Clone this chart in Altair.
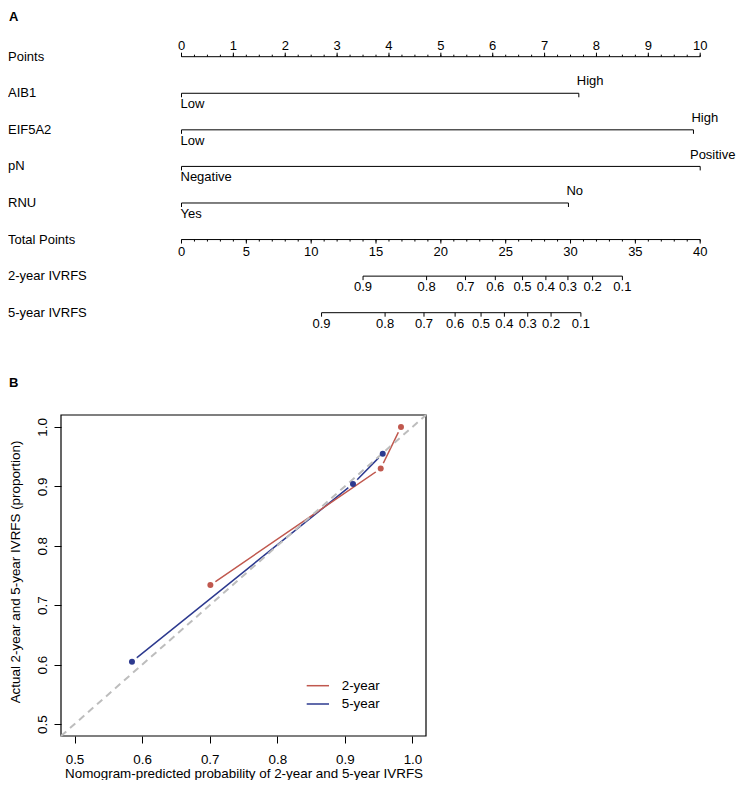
import altair as alt
import pandas as pd

FONT = "Liberation Sans"
FS_A = 13
FS_B = 13.4
INK = "#000000"

# ---------------- Panel A : nomogram ----------------
row_labels = ["Points", "AIB1", "EIF5A2", "pN", "RNU", "Total Points",
              "2-year IVRFS", "5-year IVRFS"]
row_index = [0, 1, 2, 3, 4, 5, 6, 7]

points_major = [0, 1, 2, 3, 4, 5, 6, 7, 8, 9, 10]
points_minor = [i / 4 for i in range(41)]

var_rows = [1, 2, 3, 4]
var_low_labels = ["Low", "Low", "Negative", "Yes"]
var_high_labels = ["High", "High", "Positive", "No"]
var_high_points = [7.66, 9.87, 10.0, 7.46]

total_major = [0, 5, 10, 15, 20, 25, 30, 35, 40]
total_minor = list(range(41))

surv_labels = ["0.9", "0.8", "0.7", "0.6", "0.5", "0.4", "0.3", "0.2", "0.1"]
surv2_total = [14.0, 18.9, 21.9, 24.2, 26.3, 28.1, 29.8, 31.7, 34.0]
surv5_total = [10.8, 15.7, 18.7, 21.1, 23.1, 24.9, 26.7, 28.5, 30.8]

# ---------------- Panel B : calibration ----------------
series_names = ["2-year", "5-year"]
series_colors = ["#C0584E", "#2D3A8F"]
pred_2y = [0.701, 0.953, 0.983]
obs_2y = [0.734, 0.930, 1.000]
pred_5y = [0.585, 0.912, 0.956]
obs_5y = [0.605, 0.904, 0.955]
prob_ticks = [0.5, 0.6, 0.7, 0.8, 0.9, 1.0]
prob_domain = [0.48, 1.02]

# ---------------- scales ----------------
pts = alt.Scale(domain=[0, 10], range=[173.5, 692.2])
tot = alt.Scale(domain=[0, 40], range=[173.5, 692.2])
rows = alt.Scale(domain=[0, 7], range=[48.7, 304.7])
bx = alt.Scale(domain=prob_domain, range=[53, 418])
by = alt.Scale(domain=prob_domain, range=[728, 407])


def X(f, s):
    return alt.X(f, type="quantitative", scale=s, axis=None)


def Y(f, s):
    return alt.Y(f, type="quantitative", scale=s, axis=None)


layers = []

# horizontal lines: points axis + variables
df_hl = pd.DataFrame({"row": [0] + var_rows, "start": [0] * 5,
                      "end": [10] + var_high_points})
layers.append(alt.Chart(df_hl).mark_rule(color=INK, strokeWidth=1).encode(
    x=X("start", pts), x2="end", y=Y("row", rows)))

# points axis ticks and labels
df_pmaj = pd.DataFrame({"v": points_major, "row": 0})
df_pmin = pd.DataFrame({"v": points_minor, "row": 0})
layers.append(alt.Chart(df_pmaj).mark_rule(color=INK, strokeWidth=1, y2Offset=-4).encode(
    x=X("v", pts), y=Y("row", rows), y2="row"))
layers.append(alt.Chart(df_pmin).mark_rule(color=INK, strokeWidth=1, y2Offset=-2).encode(
    x=X("v", pts), y=Y("row", rows), y2="row"))
layers.append(alt.Chart(df_pmaj).mark_text(
    font=FONT, fontSize=FS_A, color=INK, baseline="alphabetic", yOffset=-7).encode(
    x=X("v", pts), y=Y("row", rows), text=alt.Text("v:Q", format="d")))

# variable end ticks and level labels
df_vt = pd.DataFrame({"pos": [0] * 4 + var_high_points, "row": var_rows * 2})
layers.append(alt.Chart(df_vt).mark_rule(color=INK, strokeWidth=1, y2Offset=4).encode(
    x=X("pos", pts), y=Y("row", rows), y2="row"))
df_low = pd.DataFrame({"pos": [0] * 4, "row": var_rows, "label": var_low_labels})
df_high = pd.DataFrame({"pos": var_high_points, "row": var_rows, "label": var_high_labels})
layers.append(alt.Chart(df_low).mark_text(
    font=FONT, fontSize=FS_A, color=INK, align="left", baseline="top", dx=-1, yOffset=5).encode(
    x=X("pos", pts), y=Y("row", rows), text="label:N"))
# labels that fit to the right of their tick
layers.append(alt.Chart(df_high).transform_filter(alt.datum.pos < 10).mark_text(
    font=FONT, fontSize=FS_A, color=INK, align="left", baseline="alphabetic", dx=-2, yOffset=-7.8).encode(
    x=X("pos", pts), y=Y("row", rows), text="label:N"))
# label at the right end of the scale: kept inside the page
layers.append(alt.Chart(df_high).transform_filter(alt.datum.pos >= 10).mark_text(
    font=FONT, fontSize=FS_A, color=INK, align="right", baseline="alphabetic", yOffset=-7.8).encode(
    x=alt.value(727.5), y=Y("row", rows), text="label:N"))

# row labels
df_rl = pd.DataFrame({"row": row_index, "label": row_labels})
layers.append(alt.Chart(df_rl).mark_text(
    font=FONT, fontSize=FS_A, color=INK, align="left", baseline="middle").encode(
    x=alt.value(0), y=Y("row", rows), text="label:N"))

# total points axis
df_tl = pd.DataFrame({"row": [5], "start": [0], "end": [40]})
layers.append(alt.Chart(df_tl).mark_rule(color=INK, strokeWidth=1).encode(
    x=X("start", tot), x2="end", y=Y("row", rows)))
df_tmaj = pd.DataFrame({"v": total_major, "row": 5})
df_tmin = pd.DataFrame({"v": total_minor, "row": 5})
layers.append(alt.Chart(df_tmaj).mark_rule(color=INK, strokeWidth=1, y2Offset=4).encode(
    x=X("v", tot), y=Y("row", rows), y2="row"))
layers.append(alt.Chart(df_tmin).mark_rule(color=INK, strokeWidth=1, y2Offset=2).encode(
    x=X("v", tot), y=Y("row", rows), y2="row"))
layers.append(alt.Chart(df_tmaj).mark_text(
    font=FONT, fontSize=FS_A, color=INK, baseline="top", yOffset=6).encode(
    x=X("v", tot), y=Y("row", rows), text=alt.Text("v:Q", format="d")))

# survival probability axes
df_sl = pd.DataFrame({"row": [6, 7], "start": [min(surv2_total), min(surv5_total)],
                      "end": [max(surv2_total), max(surv5_total)]})
layers.append(alt.Chart(df_sl).mark_rule(color=INK, strokeWidth=1).encode(
    x=X("start", tot), x2="end", y=Y("row", rows)))
df_st = pd.DataFrame({"v": surv2_total + surv5_total,
                      "row": [6] * len(surv2_total) + [7] * len(surv5_total),
                      "label": surv_labels + surv_labels})
layers.append(alt.Chart(df_st).mark_rule(color=INK, strokeWidth=1, y2Offset=4).encode(
    x=X("v", tot), y=Y("row", rows), y2="row"))
layers.append(alt.Chart(df_st).mark_text(
    font=FONT, fontSize=FS_A, color=INK, baseline="top", yOffset=5.3).encode(
    x=X("v", tot), y=Y("row", rows), text="label:N"))

# panel letters
layers.append(alt.Chart(pd.DataFrame({"t": ["A"]})).mark_text(
    font=FONT, fontSize=FS_A, fontWeight="bold", color=INK, align="left", baseline="top").encode(
    x=alt.value(1), y=alt.value(3), text="t:N"))
layers.append(alt.Chart(pd.DataFrame({"t": ["B"]})).mark_text(
    font=FONT, fontSize=FS_A, fontWeight="bold", color=INK, align="left", baseline="alphabetic").encode(
    x=alt.value(1), y=alt.value(379), text="t:N"))

# ---------------- Panel B layers ----------------
df_cal = pd.DataFrame({
    "pred": pred_2y + pred_5y,
    "obs": obs_2y + obs_5y,
    "series": ["2-year"] * len(pred_2y) + ["5-year"] * len(pred_5y),
    "order": list(range(len(pred_2y))) + list(range(len(pred_5y))),
})
color_enc = alt.Color("series:N", scale=alt.Scale(domain=series_names, range=series_colors),
                      legend=None)

df_frame = pd.DataFrame({"lo": [prob_domain[0]], "hi": [prob_domain[1]]})
layers.append(alt.Chart(df_frame).mark_rect(fillOpacity=0, stroke=INK, strokeWidth=1.2).encode(
    x=X("lo", bx), x2="hi", y=Y("lo", by), y2="hi"))

for s in ["5-year", "2-year"]:
    col = series_colors[series_names.index(s)]
    base = alt.Chart(df_cal).transform_filter(alt.datum.series == s)
    layers.append(base.mark_line(color=col, strokeWidth=1.5).encode(
        x=X("pred", bx), y=Y("obs", by), order="order:Q"))
    layers.append(base.mark_circle(color="white", opacity=1, size=150).encode(
        x=X("pred", bx), y=Y("obs", by)))

df_diag = pd.DataFrame({"p": prob_domain})
layers.append(alt.Chart(df_diag).mark_line(color="#BDBDBD", strokeWidth=2, strokeDash=[7, 5]).encode(
    x=X("p", bx), y=Y("p", by)))

x_axis = alt.Axis(orient="bottom", values=prob_ticks, format=".1f", domain=False, grid=False,
                  tickSize=7, tickColor=INK, tickWidth=1, labelPadding=9, labelFlush=False,
                  labelFont=FONT, labelFontSize=FS_B, labelColor=INK,
                  titleFont=FONT, titleFontSize=FS_B, titleFontWeight="normal", titleColor=INK,
                  titleX=235.5, titleY=41, titleAlign="center", titleBaseline="alphabetic")
y_axis = alt.Axis(orient="left", offset=-53, values=prob_ticks, format=".1f", domain=False,
                  grid=False, tickSize=7, tickColor=INK, tickWidth=1, labelPadding=7.3,
                  labelFlush=False, labelOverlap=False, labelAngle=270, labelAlign="center",
                  labelBaseline="alphabetic",
                  labelFont=FONT, labelFontSize=FS_B, labelColor=INK,
                  titleFont=FONT, titleFontSize=FS_B, titleFontWeight="normal", titleColor=INK,
                  titleX=-42, titleY=563.5, titleAngle=270, titleAlign="center",
                  titleBaseline="alphabetic")

layers.append(alt.Chart(df_cal).mark_circle(size=36, opacity=1).encode(
    x=alt.X("pred:Q", scale=bx, axis=x_axis,
            title="Nomogram-predicted probability of 2-year and 5-year IVRFS"),
    y=alt.Y("obs:Q", scale=by, axis=y_axis,
            title="Actual 2-year and 5-year IVRFS (proportion)"),
    color=color_enc))

# legend
df_leg = pd.DataFrame({"series": series_names})
leg_y = alt.Y("series:N", scale=alt.Scale(type="point", domain=series_names,
                                          range=[677.7, 696], padding=0), axis=None)
layers.append(alt.Chart(df_leg).mark_rule(strokeWidth=1.5).encode(
    x=alt.value(298.7), x2=alt.value(321), y=leg_y, color=color_enc))
layers.append(alt.Chart(df_leg).mark_text(
    font=FONT, fontSize=FS_B, color=INK, align="left", baseline="middle").encode(
    x=alt.value(333.7), y=leg_y, text="series:N"))

chart = alt.layer(*layers).resolve_scale(x="independent", y="independent").properties(
    width=728, height=728, padding=0, background="white"
).configure_view(stroke=None)

chart.save("out.html", embed_options={"renderer": "svg", "actions": False})
